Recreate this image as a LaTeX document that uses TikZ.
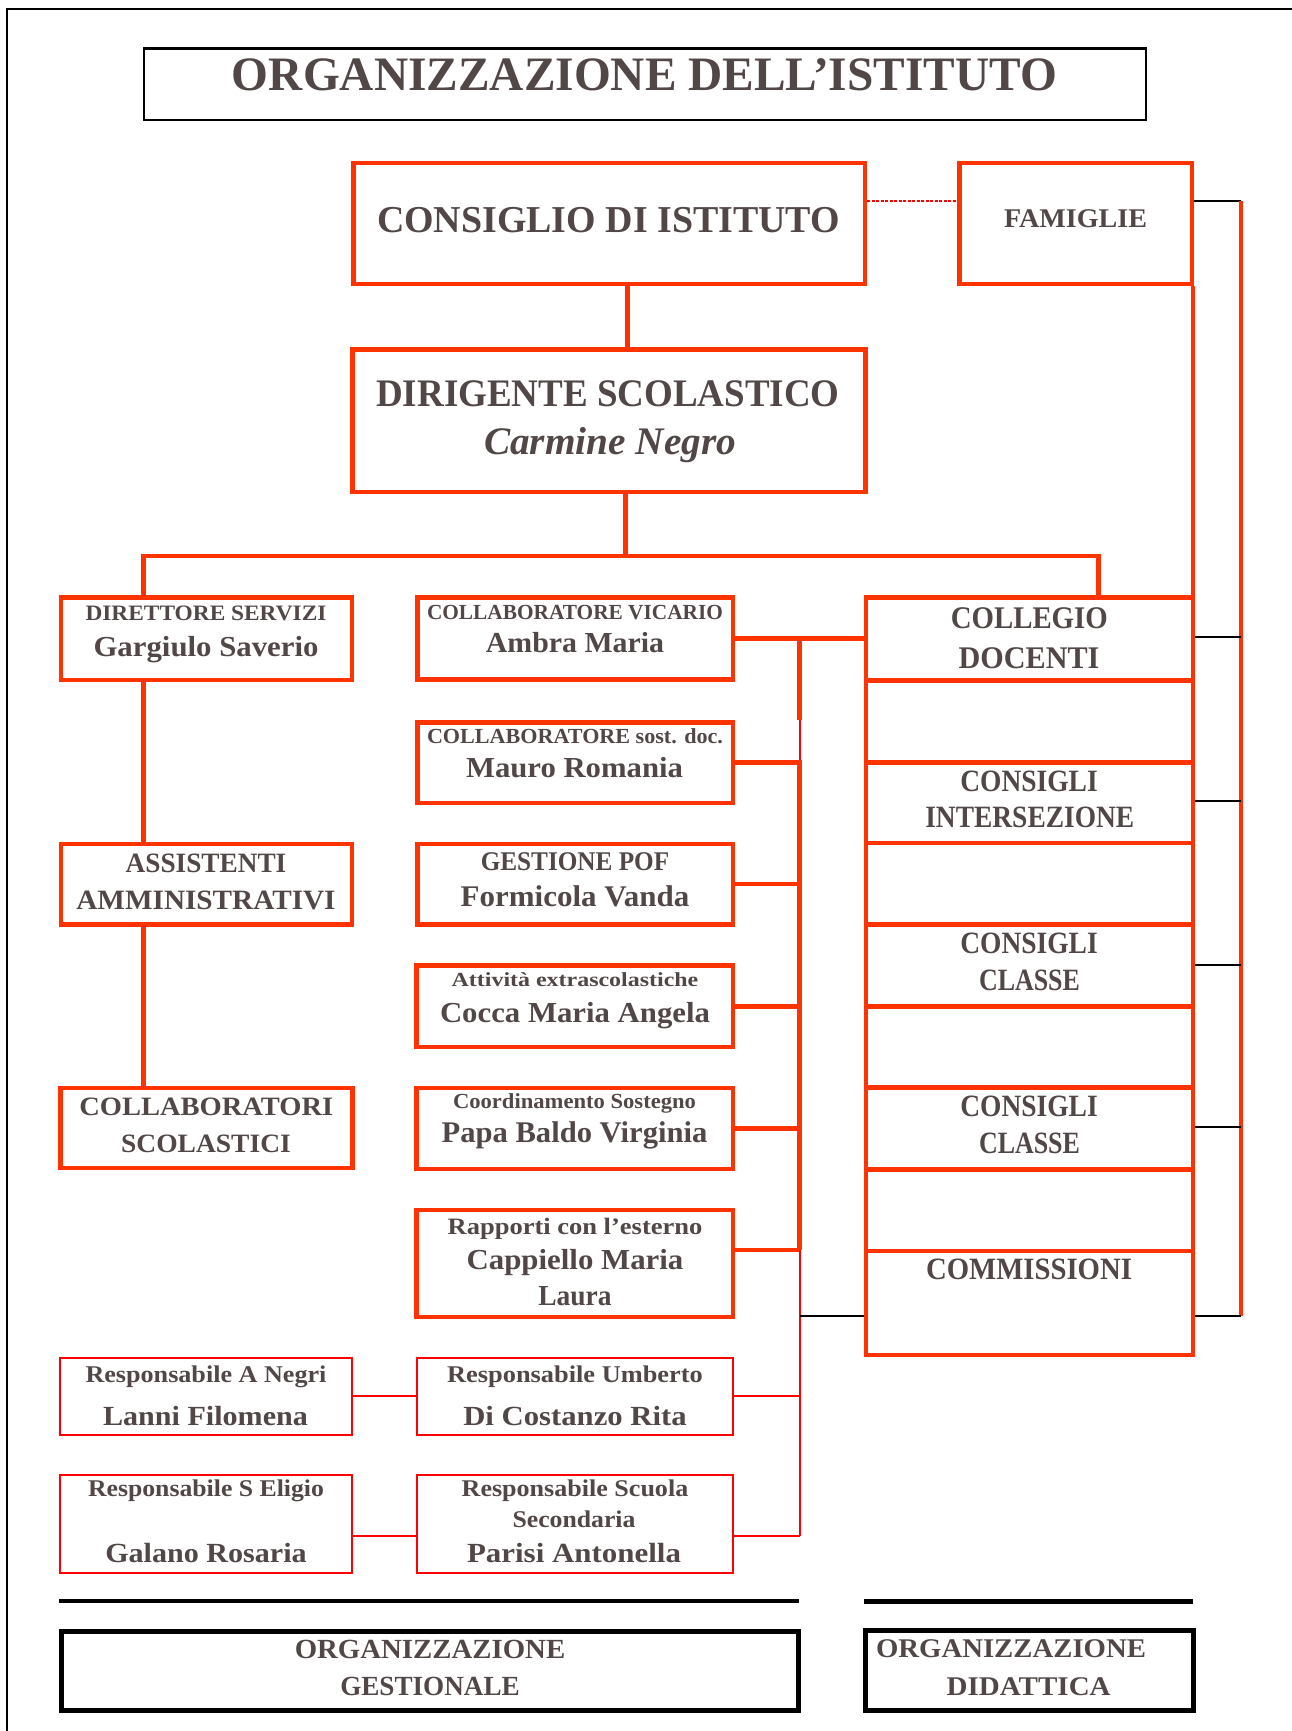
\documentclass[tikz,border=0pt]{standalone}
\usepackage{fontspec}
\setmainfont{Liberation Serif}
\usepackage{graphicx}
\definecolor{ored}{RGB}{255,51,0}
\definecolor{pred}{RGB}{255,0,0}
\definecolor{ink}{RGB}{82,71,71}
\newlength\fitlen
\newcommand\fitw[2]{\settowidth{\fitlen}{#2}\pgfmathsetmacro\fitf{#1/\fitlen}\scalebox{\fitf}[1]{#2}}
\newcommand\fs[1]{\fontsize{#1}{#1}\selectfont\bfseries}
\begin{document}
\begin{tikzpicture}[x=1pt,y=-1pt,
  txt/.style={anchor=base,inner sep=0pt,text=ink},
  rbox/.style={draw=ored,line width=4.5pt,inner sep=0pt,fill=white},
  tbox/.style={draw=pred,line width=2pt,inner sep=0pt,fill=white},
  kbox/.style={draw=black,inner sep=0pt},
  rline/.style={draw=ored,line width=4.5pt},
  tline/.style={draw=pred,line width=2pt},
  kline/.style={draw=black,line width=2pt},
  dotline/.style={draw=pred,line width=2pt,dash pattern=on 3pt off 1.5pt}]
\useasboundingbox (0,0) rectangle (1292,1731);
% page frame
\draw[line width=2pt] (7.4,1731) -- (7.4,9) -- (1292,9);
% ---------- boxes (drawn on the main layer, connectors go behind) ----------
\begin{scope}
\node[kbox,line width=2.5pt,minimum width=1002pt,minimum height=71.5pt] (ttlbox) at (644.75,84.5) {};
\node[rbox,minimum width=511.5pt,minimum height=120.8pt] (consiglio) at (609,223.4) {};
\node[rbox,minimum width=232.5pt,minimum height=120.8pt] (famiglie) at (1075.5,223.4) {};
\node[rbox,minimum width=513pt,minimum height=142.2pt] (dirigente) at (608.75,420.65) {};
\node[rbox,minimum width=290.75pt,minimum height=82.5pt] (direttore) at (206.4,638.5) {};
\node[rbox,minimum width=290.75pt,minimum height=80.5pt] (assistenti) at (206.4,884.2) {};
\node[rbox,minimum width=292.2pt,minimum height=79.8pt] (collabor) at (206.6,1127.85) {};
\node[rbox,minimum width=315.5pt,minimum height=82.2pt] (vicario) at (575,638.35) {};
\node[rbox,minimum width=315.5pt,minimum height=80.5pt] (sostdoc) at (575,762.5) {};
\node[rbox,minimum width=315.5pt,minimum height=80.5pt] (pof) at (575,884.2) {};
\node[rbox,minimum width=316.8pt,minimum height=81.5pt] (extra) at (574.65,1006.3) {};
\node[rbox,minimum width=316.8pt,minimum height=80.8pt] (sostegno) at (574.65,1128.35) {};
\node[rbox,minimum width=316.8pt,minimum height=107.1pt] (rapporti) at (574.65,1263.5) {};
\node[tbox,minimum width=292.6pt,minimum height=77.3pt] (negri) at (206.1,1396.35) {};
\node[tbox,minimum width=316.8pt,minimum height=77.3pt] (umberto) at (574.9,1396.35) {};
\node[tbox,minimum width=292.6pt,minimum height=98.3pt] (eligio) at (206.1,1523.85) {};
\node[tbox,minimum width=316.8pt,minimum height=98.3pt] (secondaria) at (574.9,1523.85) {};
\node[kbox,line width=5pt,minimum width=737.25pt,minimum height=79pt] (gestionale) at (429.9,1670.7) {};
\node[kbox,line width=5pt,minimum width=328.3pt,minimum height=80pt] (didattica) at (1029.35,1670.8) {};
% right stack
\node[rbox,minimum width=327pt,minimum height=83.1pt] (collegio) at (1029.5,638.95) {};
\node[rbox,minimum width=327pt,minimum height=82.1pt] (sgap1) at (1029.5,721.55) {};
\node[rbox,minimum width=327pt,minimum height=80.6pt] (inters) at (1029.5,802.9) {};
\node[rbox,minimum width=327pt,minimum height=81.1pt] (sgap2) at (1029.5,883.75) {};
\node[rbox,minimum width=327pt,minimum height=82.1pt] (classe1) at (1029.5,965.35) {};
\node[rbox,minimum width=327pt,minimum height=81.1pt] (sgap3) at (1029.5,1046.95) {};
\node[rbox,minimum width=327pt,minimum height=82pt] (classe2) at (1029.5,1128.5) {};
\node[rbox,minimum width=327pt,minimum height=81.6pt] (sgap4) at (1029.5,1210.3) {};
\node[rbox,minimum width=327pt,minimum height=103.9pt] (commiss) at (1029.5,1303.05) {};
\end{scope}
% reference coordinates for connector bends
\coordinate (cA) at (627.5,0);
\coordinate (busL) at (143.5,556);
\coordinate (busM) at (625.5,556);
\coordinate (busR) at (1098.6,556);
\coordinate (famrow) at (0,201);
\coordinate (rbar) at (1241,0);
\coordinate (fx) at (1193,0);
\coordinate (vb) at (799.5,0);
\coordinate (rp) at (0,1250);
\coordinate (sp) at (0,1535.7);
\coordinate (cm) at (0,1316);
\coordinate (tk1) at (0,637.2);
\coordinate (tk2) at (0,801.4);
\coordinate (tk3) at (0,964.6);
\coordinate (tk4) at (0,1127.3);
\coordinate (tk5) at (0,1315.8);
% ---------- connectors ----------
\draw[rline] (consiglio.south -| cA) -- (dirigente.north -| cA);
\draw[rline] (dirigente.south -| busM) -- (busM);
\draw[rline] (direttore.north -| busL) -- (busL) -- (busR) -- (collegio.north -| busR);
\draw[rline] (direttore.south -| busL) -- (assistenti.north -| busL);
\draw[rline] (assistenti.south -| busL) -- (collabor.north -| busL);
\draw[dotline] (consiglio.east |- famrow) -- (famiglie.west |- famrow);
\draw[kline] (famiglie.east |- famrow) -- (rbar |- famrow);
\draw[rline] (rbar |- famrow) -- (rbar |- cm);
\draw[rline] (famiglie.south -| fx) -- (collegio.north -| fx);
\draw[kline] (collegio.east |- tk1) -- (rbar |- tk1);
\draw[kline] (inters.east |- tk2) -- (rbar |- tk2);
\draw[kline] (classe1.east |- tk3) -- (rbar |- tk3);
\draw[kline] (classe2.east |- tk4) -- (rbar |- tk4);
\draw[kline] (commiss.east |- tk5) -- (rbar |- tk5);
\draw[rline] (vicario.east) -- (collegio.west |- vicario.east);
\draw[rline] (vb |- vicario.east) -- (vb |- sostdoc.north);
\draw[tline] (vb |- sostdoc.north) -- (vb |- sostdoc.east);
\draw[rline] (sostdoc.east) -- (vb |- sostdoc.east) -- (vb |- rp);
\draw[rline] (pof.east) -- (vb |- pof.east);
\draw[rline] (extra.east) -- (vb |- extra.east);
\draw[rline] (sostegno.east) -- (vb |- sostegno.east);
\draw[rline] (rapporti.east |- rp) -- (vb |- rp);
\draw[tline] (vb |- rp) -- (vb |- sp);
\draw[tline] (umberto.east) -- (vb |- umberto.east);
\draw[tline] (secondaria.east |- sp) -- (vb |- sp);
\draw[tline] (negri.east) -- (umberto.west);
\draw[tline] (eligio.east |- sp) -- (secondaria.west |- sp);
\draw[kline] (vb |- cm) -- (commiss.west |- cm);
% bars
\draw[line width=4pt] (58.75,1601.3) -- (799,1601.3);
\draw[line width=5pt] (864,1601.5) -- (1192.7,1601.5);
% redraw box outlines over connectors
\foreach \b in {consiglio,famiglie,dirigente,direttore,assistenti,collabor,vicario,sostdoc,pof,extra,sostegno,rapporti,collegio,sgap1,inters,sgap2,classe1,sgap3,classe2,sgap4,commiss}
  \draw[ored,line width=4.5pt] (\b.north west) ++(2.25,2.25) rectangle ([shift={(-2.25,-2.25)}]\b.south east);
\foreach \b in {negri,umberto,eligio,secondaria}
  \draw[pred,line width=2pt] (\b.north west) ++(1,1) rectangle ([shift={(-1,-1)}]\b.south east);
% ---------- texts ----------
\node[txt,font=\fs{48}] (t0) at (644.5,91) {\fitw{825}{ORGANIZZAZIONE DELL’ISTITUTO}};
\node[txt,font=\fs{38}] (t1) at (608.5,232) {\fitw{463}{CONSIGLIO DI ISTITUTO}};
\node[txt,font=\fs{27}] (t2) at (1075.5,227) {\fitw{143}{FAMIGLIE}};
\node[txt,font=\fs{39}] (t3a) at (608,406) {\fitw{463.6}{DIRIGENTE SCOLASTICO}};
\node[txt,font=\fs{39}] (t3b) at (610,454.3) {\fitw{252}{\itshape Carmine Negro}};
\node[txt,font=\fs{22}] (t4a) at (206,620.7) {\fitw{241}{DIRETTORE SERVIZI}};
\node[txt,font=\fs{29}] (t4b) at (206,656) {\fitw{225}{Gargiulo Saverio}};
\node[txt,font=\fs{28}] (t5a) at (206,872) {\fitw{160.7}{ASSISTENTI}};
\node[txt,font=\fs{28}] (t5b) at (206,909) {\fitw{259.3}{AMMINISTRATIVI}};
\node[txt,font=\fs{26.5}] (t6a) at (206.3,1115.7) {\fitw{254}{COLLABORATORI}};
\node[txt,font=\fs{26.5}] (t6b) at (206,1152.7) {\fitw{169.7}{SCOLASTICI}};
\node[txt,font=\fs{21.5}] (t7a) at (575,619.3) {\fitw{296}{COLLABORATORE VICARIO}};
\node[txt,font=\fs{29}] (t7b) at (575,652.7) {\fitw{178.3}{Ambra Maria}};
\node[txt,font=\fs{21.5}] (t8a) at (575,743) {\fitw{296}{COLLABORATORE sost. doc.}};
\node[txt,font=\fs{29}] (t8b) at (574.5,777) {\fitw{217}{Mauro Romania}};
\node[txt,font=\fs{27}] (t9a) at (575,870.7) {\fitw{188.5}{GESTIONE POF}};
\node[txt,font=\fs{30}] (t9b) at (575,906.7) {\fitw{228.8}{Formicola Vanda}};
\node[txt,font=\fs{20}] (t10a) at (575,986.7) {\fitw{246.7}{Attività extrascolastiche}};
\node[txt,font=\fs{29}] (t10b) at (575,1022) {\fitw{270}{Cocca Maria Angela}};
\node[txt,font=\fs{21.5}] (t11a) at (574.5,1108.3) {\fitw{243}{Coordinamento Sostegno}};
\node[txt,font=\fs{30}] (t11b) at (574.5,1142.7) {\fitw{265.7}{Papa Baldo Virginia}};
\node[txt,font=\fs{23.5}] (t12a) at (575,1234) {\fitw{254.7}{Rapporti con l’esterno}};
\node[txt,font=\fs{29}] (t12b) at (575,1269.3) {\fitw{216.7}{Cappiello Maria}};
\node[txt,font=\fs{29}] (t12c) at (575,1305) {\fitw{73.3}{Laura}};
\node[txt,font=\fs{24}] (t13a) at (206,1382.7) {\fitw{241}{Responsabile A Negri}};
\node[txt,font=\fs{27.7}] (t13b) at (205.5,1425) {\fitw{204.7}{Lanni Filomena}};
\node[txt,font=\fs{24}] (t14a) at (575,1382.7) {\fitw{255.6}{Responsabile Umberto}};
\node[txt,font=\fs{27.7}] (t14b) at (575,1425) {\fitw{223.4}{Di Costanzo Rita}};
\node[txt,font=\fs{24}] (t15a) at (206,1496) {\fitw{236}{Responsabile S Eligio}};
\node[txt,font=\fs{27.7}] (t15b) at (206,1562.7) {\fitw{201.4}{Galano Rosaria}};
\node[txt,font=\fs{24}] (t16a) at (575,1496) {\fitw{226.6}{Responsabile Scuola}};
\node[txt,font=\fs{24}] (t16b) at (574,1527.3) {\fitw{123}{Secondaria}};
\node[txt,font=\fs{27.7}] (t16c) at (574,1562.7) {\fitw{214}{Parisi Antonella}};
\node[txt,font=\fs{27.7}] (t17a) at (430,1658.3) {\fitw{270.5}{ORGANIZZAZIONE}};
\node[txt,font=\fs{27.7}] (t17b) at (430,1695) {\fitw{179.5}{GESTIONALE}};
\node[txt,font=\fs{27}] (t18a) at (1011,1657.7) {\fitw{270}{ORGANIZZAZIONE}};
\node[txt,font=\fs{27}] (t18b) at (1028.7,1695) {\fitw{164}{DIDATTICA}};
\node[txt,font=\fs{31.5}] (t19a) at (1029.3,628.3) {\fitw{157}{COLLEGIO}};
\node[txt,font=\fs{31.5}] (t19b) at (1029,668.6) {\fitw{140.8}{DOCENTI}};
\node[txt,font=\fs{31}] (t20a) at (1029,791.4) {\fitw{137.4}{CONSIGLI}};
\node[txt,font=\fs{31}] (t20b) at (1029.8,827.3) {\fitw{209}{INTERSEZIONE}};
\node[txt,font=\fs{31}] (t21a) at (1029,953) {\fitw{137.4}{CONSIGLI}};
\node[txt,font=\fs{31}] (t21b) at (1029.5,990.4) {\fitw{101}{CLASSE}};
\node[txt,font=\fs{31}] (t22a) at (1029,1116.3) {\fitw{137.4}{CONSIGLI}};
\node[txt,font=\fs{31}] (t22b) at (1029.5,1153) {\fitw{101}{CLASSE}};
\node[txt,font=\fs{31}] (t23) at (1029,1279.5) {\fitw{206}{COMMISSIONI}};
\end{tikzpicture}
\end{document}
